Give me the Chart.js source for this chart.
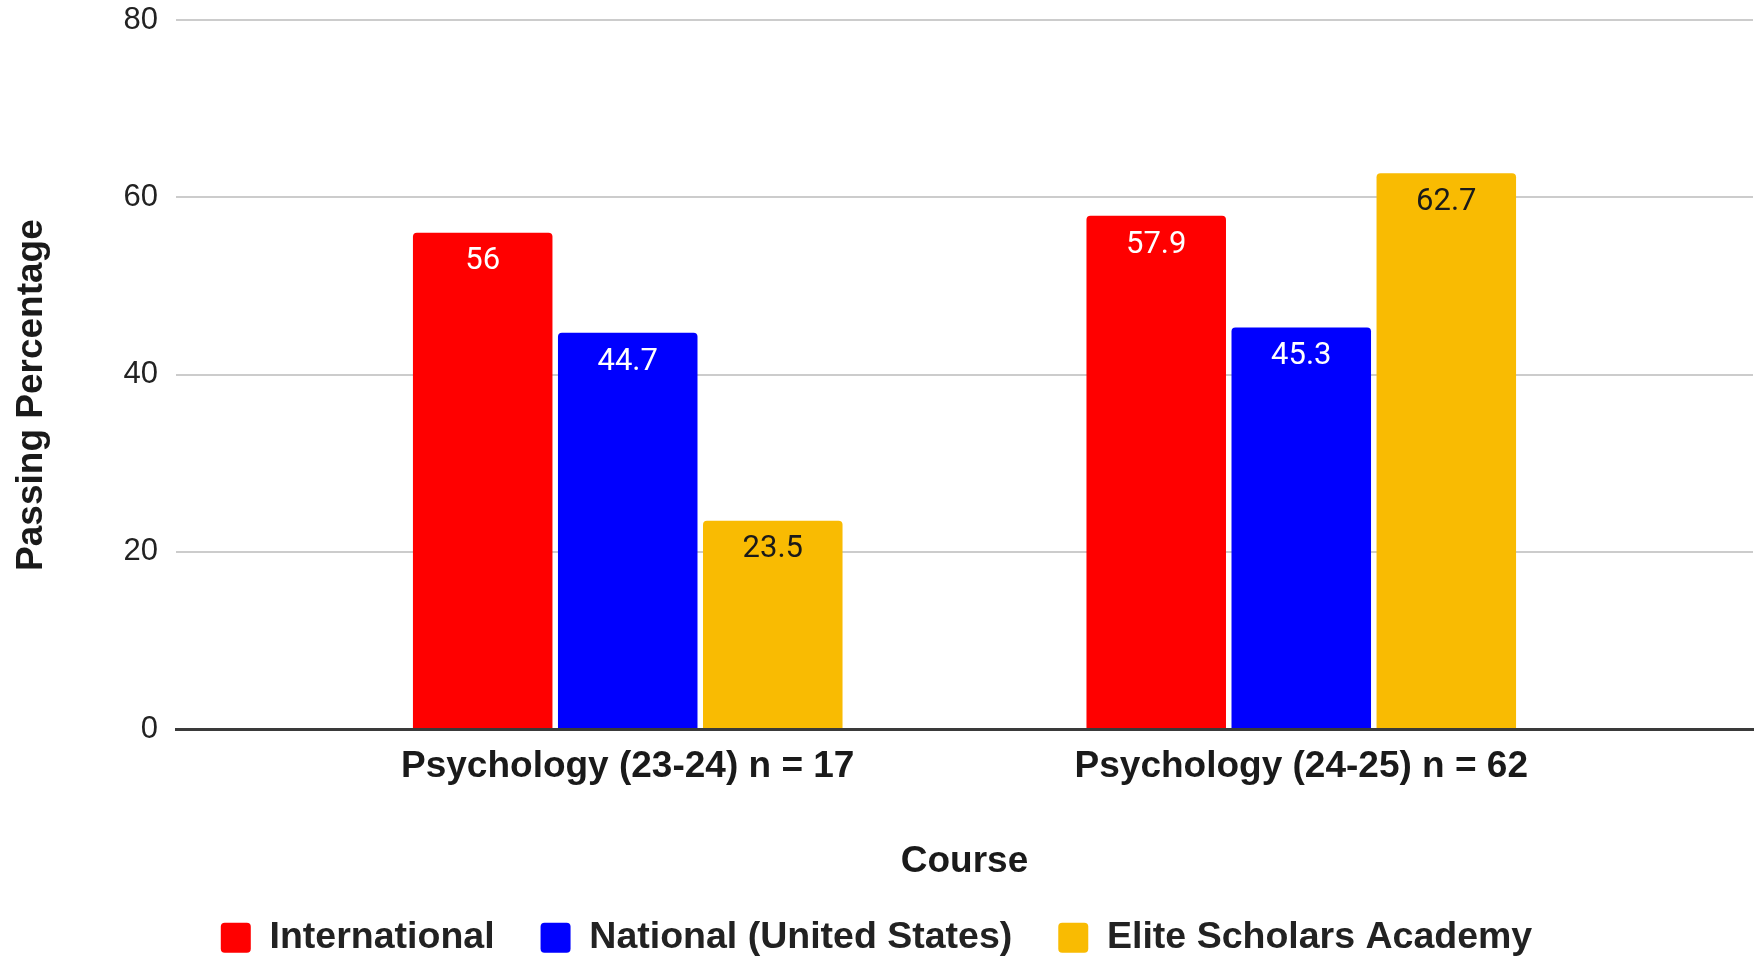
<!DOCTYPE html>
<html>
<head>
<meta charset="utf-8">
<script src="https://cdn.jsdelivr.net/npm/chart.js@4/dist/chart.umd.min.js"></script>
<style>
  html, body { margin: 0; padding: 0; background: #ffffff; }
  #wrap { width: 1763px; height: 957px; }
</style>
</head>
<body>
<div id="wrap"><canvas id="c" width="1763" height="957"></canvas></div>
<script>
// ---- data ----
const categories = ['Psychology (23-24) n = 17', 'Psychology (24-25) n = 62'];
const seriesNames = ['International', 'National (United States)', 'Elite Scholars Academy'];
const international = [56, 57.9];
const national = [44.7, 45.3];
const eliteScholars = [23.5, 62.7];
const yTicks = [0, 20, 40, 60, 80];

// ---- styles ----
const barColors = ['#ff0000', '#0000ff', '#f9bb02'];
const labelColors = ['#ffffff', '#ffffff', '#1a1a1a'];
const FONT = '"Liberation Sans", Arial, sans-serif';

const seriesValues = [international, national, eliteScholars];
const datasets = seriesValues.map((vals, s) => ({
  label: seriesNames[s],
  data: vals.map((v, i) => ({ x: i, y: v })),
  backgroundColor: barColors[s],
  borderRadius: 4,
  categoryPercentage: 0.646,
  barPercentage: 0.962
}));

const valueLabels = {
  id: 'valueLabels',
  afterDatasetsDraw(chart) {
    const ctx = chart.ctx;
    ctx.save();
    ctx.font = '31px Roboto, Arial, sans-serif';
    ctx.textAlign = 'center';
    ctx.textBaseline = 'middle';
    chart.data.datasets.forEach((ds, s) => {
      const meta = chart.getDatasetMeta(s);
      meta.data.forEach((el, i) => {
        ctx.fillStyle = labelColors[s];
        ctx.fillText(String(seriesValues[s][i]), el.x, el.y + 29);
      });
    });
    ctx.restore();
  }
};

new Chart(document.getElementById('c'), {
  type: 'bar',
  data: { datasets },
  plugins: [valueLabels],
  options: {
    responsive: false,
    animation: false,
    events: [],
    layout: { padding: { top: 20, right: 10, left: 0, bottom: 0 } },
    plugins: {
      tooltip: { enabled: false },
      legend: {
        position: 'bottom',
        maxHeight: 84,
        labels: {
          font: { family: FONT, size: 37.5, weight: 'bold' },
          color: '#222222',
          boxWidth: 30,
          boxHeight: 30,
          useBorderRadius: true,
          borderRadius: 4,
          padding: 46
        }
      }
    },
    scales: {
      x: {
        type: 'linear',
        min: -0.6707,
        max: 1.6707,
        offset: false,
        grid: { display: false, drawTicks: false },
        border: { display: true, color: '#3a3a3a', width: 3 },
        afterBuildTicks: (scale) => { scale.ticks = categories.map((_, i) => ({ value: i })); },
        afterFit: (scale) => { scale.height = 144; },
        ticks: {
          padding: 16,
          autoSkip: false,
          maxRotation: 0,
          font: { family: FONT, size: 37, weight: 'bold' },
          color: '#1a1a1a',
          callback: (v) => categories[v]
        },
        title: {
          display: true,
          text: 'Course',
          font: { family: FONT, size: 37, weight: 'bold', lineHeight: '22px' },
          color: '#1a1a1a',
          padding: { top: 0, bottom: 0 }
        }
      },
      y: {
        min: 0,
        max: 80,
        afterBuildTicks: (scale) => { scale.ticks = yTicks.map(v => ({ value: v })); },
        afterFit: (scale) => { scale.width = 176; },
        grid: { color: '#cccccc', lineWidth: 2, drawTicks: false },
        border: { display: false },
        ticks: {
          padding: 18,
          font: { family: FONT, size: 31, lineHeight: '2px' },
          color: '#222222'
        },
        title: {
          display: true,
          text: 'Passing Percentage    ',
          font: { family: FONT, size: 37, weight: 'bold' },
          color: '#1a1a1a',
          padding: { top: 10, bottom: 0 }
        }
      }
    }
  }
});
</script>
</body>
</html>
